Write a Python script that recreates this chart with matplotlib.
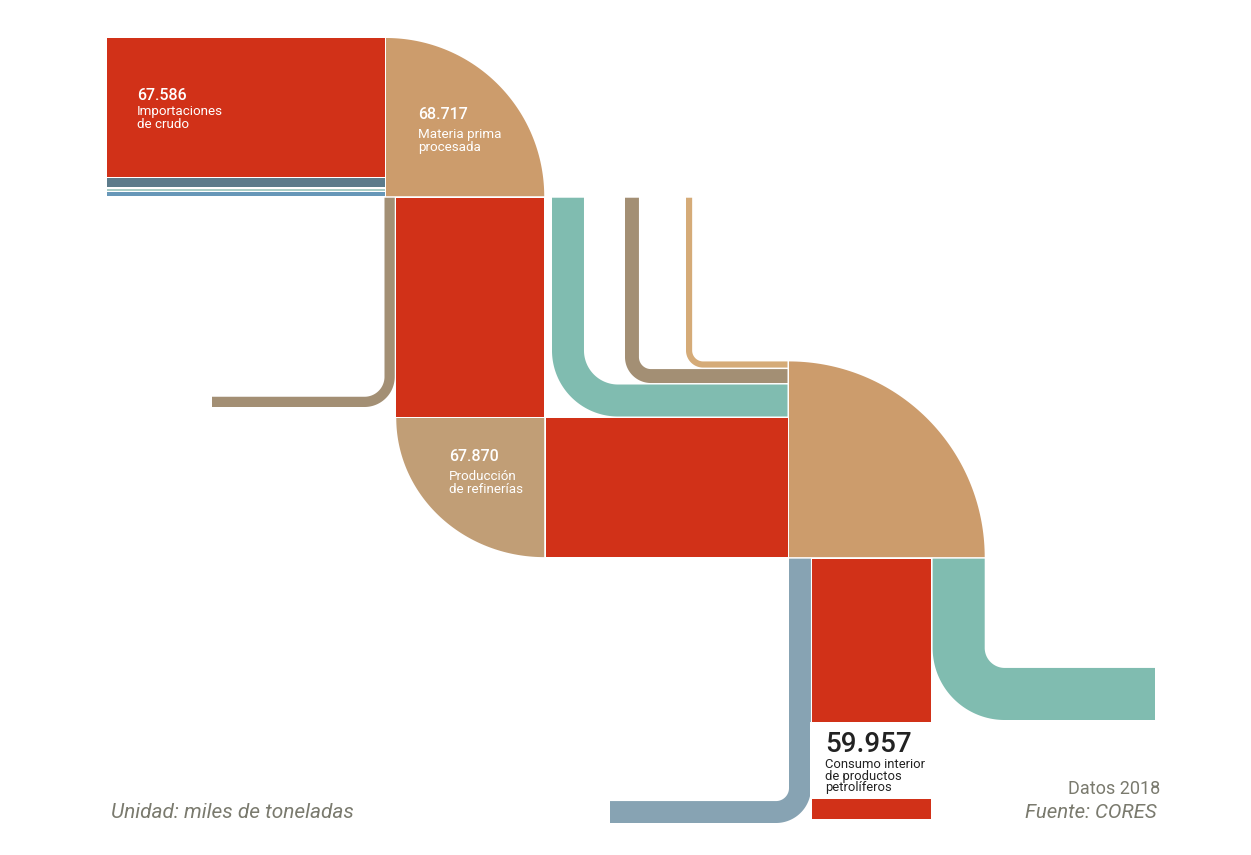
import numpy as np
import matplotlib
matplotlib.use('Agg')
import matplotlib.pyplot as plt
from matplotlib.patches import Polygon, Rectangle

# ---------------- data (thousand tonnes) ----------------
crude_imports = 67.586          # Importaciones de crudo
raw_material_processed = 68.717 # Materia prima procesada
refinery_output = 67.870        # Producción de refinerías
domestic_consumption = 59.957   # Consumo interior de productos petrolíferos

# inflows to "materia prima" (top to bottom)
inflow_values = [crude_imports, 4.4, 1.0, 2.0]
# refinery own use / losses leaving materia prima
loss_value = 5.0
# extra inflows joining the refinery output (left to right pipes: teal, brown, light tan)
extra_in_values = [15.6, 6.8, 3.0]
# outflows from the final node (left, centre = consumption, right)
out_left_value = 10.7
out_right_value = 25.4

big_labels = ['67.586', '68.717', '67.870', '59.957']
name_labels = [['Importaciones', 'de crudo'],
               ['Materia prima', 'procesada'],
               ['Producción', 'de refinerías'],
               ['Consumo interior', 'de productos', 'petrolíferos']]
footer_left = 'Unidad: miles de toneladas'
footer_right = ['Datos 2018', 'Fuente: CORES']

# ---------------- style ----------------
RED = '#D13118'
TAN = '#CC9C6C'
TAN_B = '#C19E76'
BROWN = '#A38F74'
LTAN = '#D5AB78'
TEAL = '#80BCB0'
SLATE = '#5C7B8B'
LTEAL = '#A9CCC5'
STEEL = '#6797B8'
BLUEGRAY = '#87A3B3'
GRAYTXT = '#7A7A6E'
DARK = '#222222'
inflow_colors = [RED, SLATE, LTEAL, STEEL]
extra_colors = [TEAL, BROWN, LTAN]

FONT = ['Roboto', 'DejaVu Sans']

SCALE = 2.05   # px per thousand tonnes
G = 1.5        # white gap between bands

fig = plt.figure(figsize=(12.51, 8.55), dpi=100)
ax = fig.add_axes([0, 0, 1, 1])
ax.set_xlim(0, 1251)
ax.set_ylim(855, 0)
ax.axis('off')


def arc(cx, cy, rx, ry, a0, a1, n=80):
    t = np.radians(np.linspace(a0, a1, n))
    return np.column_stack([cx + rx * np.cos(t), cy + ry * np.sin(t)])


def rect(x0, y0, x1, y1, color, z=2):
    ax.add_patch(Rectangle((x0, y0), x1 - x0, y1 - y0, facecolor=color,
                           edgecolor='none', zorder=z))


def quarter(cx, cy, rx, ry, a0, a1, color):
    pts = np.vstack([[[cx, cy]], arc(cx, cy, rx, ry, a0, a1)])
    ax.add_patch(Polygon(pts, closed=True, facecolor=color, edgecolor='none', zorder=2))


def elbow_left(xa, w, y0, yb, x_end, r, color):
    xb = xa + w
    cx, cy = xa - r, yb - w - r
    inner = arc(cx, cy, r, r, 0, 90)
    outer = arc(cx, cy, r + w, r + w, 90, 0)
    pts = np.vstack([[[xa, y0]], inner, [[x_end, yb - w], [x_end, yb]], outer, [[xb, y0]]])
    ax.add_patch(Polygon(pts, closed=True, facecolor=color, edgecolor='none', zorder=2))


def elbow_right(xa, w, y0, yb, x_end, r, color):
    xb = xa + w
    cx, cy = xb + r, yb - w - r
    inner = arc(cx, cy, r, r, 180, 90)
    outer = arc(cx, cy, r + w, r + w, 90, 180)
    pts = np.vstack([[[xb, y0]], inner, [[x_end, yb - w], [x_end, yb]], outer, [[xa, y0]]])
    ax.add_patch(Polygon(pts, closed=True, facecolor=color, edgecolor='none', zorder=2))


# ---------------- layout anchors ----------------
X_LEFT, TOP, XA = 107, 38, 386
Y_TURN = 416.5
XC = 789
LOSS_BOTTOM, LOSS_END, LOSS_R = 407, 212, 20
PIPE_X = [552, 625, 686]
PIPE_R = [34, 12, 11]
OUT_L_BOTTOM, OUT_L_END, OUT_L_R = 823, 610, 13
OUT_R_BOTTOM, OUT_R_END, OUT_R_R = 720, 1155, 20
CONS_BOTTOM = 819
LABEL_GAP = (722, 798.5)

# stage A: inflows -> materia prima
y = TOP
for v, c in zip(inflow_values, inflow_colors):
    w = v * SCALE
    rect(X_LEFT, y, XA - G, y + w, c)
    y += w + G
RA = y - G - TOP
quarter(XA, TOP + RA, RA, RA, 270, 360, TAN)

# stage B: losses + refinery column
yB0 = TOP + RA + G
xl = XA - G
wl = loss_value * SCALE
elbow_left(xl, wl, yB0, LOSS_BOTTOM, LOSS_END, LOSS_R, BROWN)
xr0, xr1 = xl + wl + G, XA + RA
rect(xr0, yB0, xr1, Y_TURN, RED)
w_prod = refinery_output * SCALE
quarter(xr1, Y_TURN + G, xr1 - xr0, w_prod, 90, 180, TAN_B)
rect(xr1 + G, Y_TURN + G, XC - G, Y_TURN + G + w_prod, RED)
yC_bottom = Y_TURN + G + w_prod

# stage C: extra pipes joining
yb = Y_TURN
for v, c, px, pr in zip(extra_in_values, extra_colors, PIPE_X, PIPE_R):
    w = v * SCALE
    elbow_right(px, w, yB0, yb, XC - G, pr, c)
    yb -= w + G
RC = yC_bottom - (yb + G)
quarter(XC, yC_bottom, RC, RC, 270, 360, TAN)

# stage D: outputs
yD0 = yC_bottom + G
wbl = out_left_value * SCALE
elbow_left(XC, wbl, yD0, OUT_L_BOTTOM, OUT_L_END, OUT_L_R, BLUEGRAY)
wtr = out_right_value * SCALE
xt = XC + RC - wtr
elbow_right(xt, wtr, yD0, OUT_R_BOTTOM, OUT_R_END, OUT_R_R, TEAL)
xc0, xc1 = XC + wbl + G, xt - G
rect(xc0, yD0, xc1, CONS_BOTTOM, RED)
rect(xc0 - 2, LABEL_GAP[0], xc1 + 2, LABEL_GAP[1], 'white', z=3)

# ---------------- texts ----------------
def label(x, yb0, big, lines, color, bsize, ssize, first, step):
    ax.text(x, yb0, big, color=color, fontsize=bsize, family=FONT, weight='medium',
            va='baseline', ha='left', zorder=5)
    for i, s in enumerate(lines):
        ax.text(x, yb0 + first + i * step, s, color=color, fontsize=ssize,
                family=FONT, va='baseline', ha='left', zorder=5)

label(137, 99.5, big_labels[0], name_labels[0], 'white', 11.5, 9.6, 16, 12.5)
label(418, 119, big_labels[1], name_labels[1], 'white', 11.5, 9.6, 19, 12.5)
label(449, 461, big_labels[2], name_labels[2], 'white', 11.5, 9.6, 19, 12.5)
label(825, 751.5, big_labels[3], name_labels[3], DARK, 20, 9.4, 16.5, 11.5)

ax.text(111, 812, footer_left, color=GRAYTXT, fontsize=15, style='italic',
        family=FONT, va='center', ha='left')
ax.text(1160, 789, footer_right[0], color=GRAYTXT, fontsize=13,
        family=FONT, va='center', ha='right')
ax.text(1157, 812, footer_right[1], color=GRAYTXT, fontsize=14.7, style='italic',
        family=FONT, va='center', ha='right')

fig.savefig('out.png', dpi=100, facecolor='white')
